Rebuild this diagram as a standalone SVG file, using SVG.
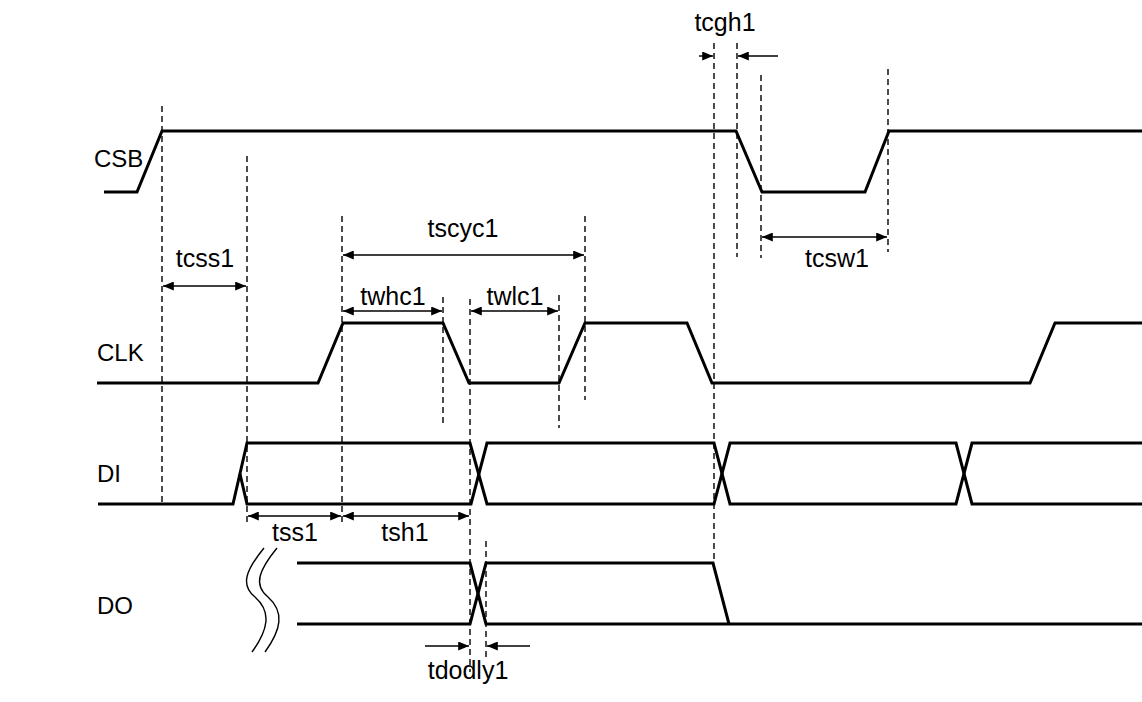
<svg xmlns="http://www.w3.org/2000/svg" width="1142" height="702" viewBox="0 0 1142 702">
<defs>
<marker id="ah" viewBox="0 0 12 10" refX="12" refY="5" markerWidth="12" markerHeight="9" markerUnits="userSpaceOnUse" orient="auto-start-reverse">
<path d="M0,0 L12,5 L0,10 z" fill="#000"/>
</marker>
<style>
.w{fill:none;stroke:#000;stroke-width:3;stroke-linejoin:miter}
.d{fill:none;stroke:#000;stroke-width:1.4;stroke-dasharray:6 4}
.a{fill:none;stroke:#000;stroke-width:1.4}
.t{font-family:"Liberation Sans",Arial,sans-serif;font-size:25px;fill:#000}
.s{font-size:24px}
.c{text-anchor:middle}
</style>
</defs>
<rect width="1142" height="702" fill="#fff"/>
<g id="labels">
<text class="t s" x="94" y="167">CSB</text>
<text class="t s" x="97" y="361">CLK</text>
<text class="t s" x="97" y="482">DI</text>
<text class="t s" x="97" y="614">DO</text>
</g>
<g id="CSB">
<polyline class="w" points="104,192 137,192 162,131 736,131 762,192 865,192 889,131 1142,131"/>
</g>
<g id="CLK">
<polyline class="w" points="97,383 318,383 343,323 443,323 469,383 559,383 585,323 687,323 712,383 1030,383 1055,323 1142,323"/>
</g>
<g id="DI">
<polyline class="w" points="98,504 233,504 247,443 470,443 487,504 714,504 730,443 956,443 972,504 1142,504"/>
<polyline class="w" points="240,474 247,504 471,504 487,443 714,443 730,504 956,504 972,443 1142,443"/>
</g>
<g id="DO">
<polyline class="w" points="297,563 470,563 486,624 1142,624"/>
<polyline class="w" points="297,624 470,624 486,563 713,563 729,624"/>
<path class="a" d="M264,548 C246,570 240,585 255,597 C272,612 268,630 252,652"/>
<path class="a" d="M277,548 C259,570 253,585 268,597 C285,612 281,630 265,652"/>
</g>
<g id="guides">
<line class="d" x1="162" y1="106" x2="162" y2="504"/>
<line class="d" x1="247" y1="156" x2="247" y2="523"/>
<line class="d" x1="342" y1="216" x2="342" y2="523"/>
<line class="d" x1="443" y1="297" x2="443" y2="424"/>
<line class="d" x1="470" y1="299" x2="470" y2="672"/>
<line class="d" x1="559" y1="295" x2="559" y2="428"/>
<line class="d" x1="585" y1="216" x2="585" y2="400"/>
<line class="d" x1="486" y1="541" x2="486" y2="657"/>
<line class="d" x1="714" y1="43" x2="714" y2="563"/>
<line class="d" x1="737" y1="43" x2="737" y2="257"/>
<line class="d" x1="761" y1="75" x2="761" y2="258"/>
<line class="d" x1="888" y1="69" x2="888" y2="252"/>
</g>
<g id="connectors">
<line class="a" x1="163" y1="286" x2="246" y2="286" marker-start="url(#ah)" marker-end="url(#ah)"/>
<line class="a" x1="343" y1="255" x2="584" y2="255" marker-start="url(#ah)" marker-end="url(#ah)"/>
<line class="a" x1="343" y1="311" x2="442" y2="311" marker-start="url(#ah)" marker-end="url(#ah)"/>
<line class="a" x1="471" y1="311" x2="558" y2="311" marker-start="url(#ah)" marker-end="url(#ah)"/>
<line class="a" x1="762" y1="237" x2="887" y2="237" marker-start="url(#ah)" marker-end="url(#ah)"/>
<line class="a" x1="248" y1="516" x2="341" y2="516" marker-start="url(#ah)" marker-end="url(#ah)"/>
<line class="a" x1="343" y1="516" x2="469" y2="516" marker-start="url(#ah)" marker-end="url(#ah)"/>
<line class="a" x1="699" y1="56" x2="713" y2="56" marker-end="url(#ah)"/>
<line class="a" x1="778" y1="56" x2="738" y2="56" marker-end="url(#ah)"/>
<line class="a" x1="425" y1="646" x2="469" y2="646" marker-end="url(#ah)"/>
<line class="a" x1="530" y1="646" x2="487" y2="646" marker-end="url(#ah)"/>
</g>
<g id="dimlabels">
<text class="t c" x="725" y="31">tcgh1</text>
<text class="t c" x="205" y="267">tcss1</text>
<text class="t c" x="463" y="237">tscyc1</text>
<text class="t c" x="393" y="305">twhc1</text>
<text class="t c" x="515" y="305">twlc1</text>
<text class="t c" x="837" y="267">tcsw1</text>
<text class="t c" x="295" y="541">tss1</text>
<text class="t c" x="405" y="541">tsh1</text>
<text class="t c" x="468" y="679">tdodly1</text>
</g>
</svg>
